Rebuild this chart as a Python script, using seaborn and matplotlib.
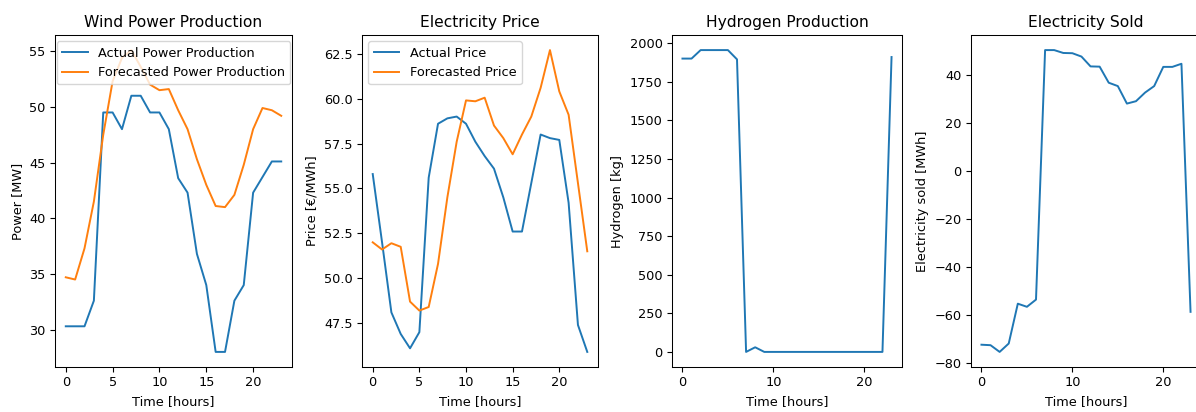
import numpy as np
import pandas as pd
import matplotlib
matplotlib.use("Agg")
import matplotlib.pyplot as plt
import seaborn as sns

hours = list(range(24))

wind_actual = [30.3, 30.3, 30.3, 32.6, 49.5, 49.5, 48.0, 51.0, 51.0, 49.5, 49.5, 48.0,
               43.6, 42.3, 36.8, 34.0, 28.0, 28.0, 32.6, 34.0, 42.3, 43.7, 45.1, 45.1]
wind_forecast = [34.7, 34.5, 37.3, 41.5, 47.5, 52.3, 54.4, 55.1, 53.6, 52.0, 51.5, 51.6,
                 49.7, 48.0, 45.3, 43.0, 41.1, 41.0, 42.1, 44.8, 48.0, 49.9, 49.7, 49.2]

price_actual = [55.8, 52.0, 48.1, 46.9, 46.1, 47.0, 55.6, 58.6, 58.9, 59.0, 58.6, 57.6,
                56.8, 56.1, 54.5, 52.6, 52.6, 55.3, 58.0, 57.8, 57.7, 54.2, 47.4, 45.9]
price_forecast = [52.0, 51.6, 51.95, 51.75, 48.7, 48.2, 48.4, 50.8, 54.5, 57.6, 59.9, 59.85,
                  60.05, 58.5, 57.8, 56.9, 58.0, 59.0, 60.6, 62.7, 60.4, 59.1, 55.3, 51.5]

hydrogen = [1900, 1900, 1955, 1955, 1955, 1955, 1895, 0, 30, 0, 0, 0,
            0, 0, 0, 0, 0, 0, 0, 0, 0, 0, 0, 1910]

elec_sold = [-72.3, -72.5, -75.3, -71.8, -55.2, -56.5, -53.5, 50.5, 50.5, 49.3, 49.2, 47.8,
             43.7, 43.6, 36.9, 35.5, 28.2, 29.2, 32.8, 35.5, 43.5, 43.5, 44.8, -58.6]

blue = "#1f77b4"
orange = "#ff7f0e"

plt.rcParams.update({
    "font.size": 9.3,
    "axes.titlesize": 11.2,
    "lines.linewidth": 1.4,
    "axes.linewidth": 0.75,
    "xtick.major.size": 3.3,
    "ytick.major.size": 3.3,
})

W, H = 1196, 412
fig = plt.figure(figsize=(W / 100, H / 100), dpi=100)

top_px, bot_px = 35, 367
lefts = [55, 362, 672, 971]
rights = [292, 598, 902, 1201]
axes = []
for l, r in zip(lefts, rights):
    ax = fig.add_axes([l / W, 1 - bot_px / H, (r - l) / W, (bot_px - top_px) / H])
    axes.append(ax)

ax = axes[0]
sns.lineplot(x=hours, y=wind_actual, ax=ax, color=blue, label="Actual Power Production")
sns.lineplot(x=hours, y=wind_forecast, ax=ax, color=orange, label="Forecasted Power Production")
ax.set_title("Wind Power Production")
ax.set_xlabel("Time [hours]")
ax.set_ylabel("Power [MW]")
ax.legend(loc="upper center")

ax = axes[1]
sns.lineplot(x=hours, y=price_actual, ax=ax, color=blue, label="Actual Price")
sns.lineplot(x=hours, y=price_forecast, ax=ax, color=orange, label="Forecasted Price")
ax.set_title("Electricity Price")
ax.set_xlabel("Time [hours]")
ax.set_ylabel("Price [€/MWh]")
ax.legend(loc="upper left")

ax = axes[2]
sns.lineplot(x=hours, y=hydrogen, ax=ax, color=blue)
ax.set_title("Hydrogen Production")
ax.set_xlabel("Time [hours]")
ax.set_ylabel("Hydrogen [kg]")

ax = axes[3]
sns.lineplot(x=hours, y=elec_sold, ax=ax, color=blue)
ax.set_title("Electricity Sold")
ax.set_xlabel("Time [hours]")
ax.set_ylabel("Electricity sold [MWh]")

fig.savefig("out.png", dpi=100)
